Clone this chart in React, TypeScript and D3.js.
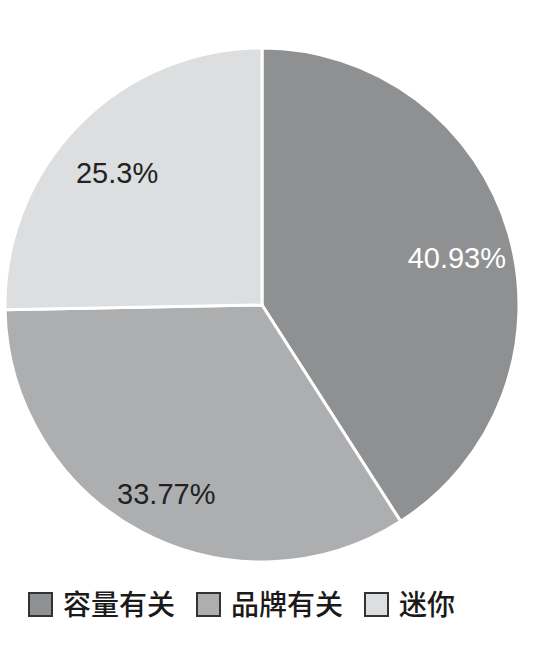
import React, { useEffect, useRef } from 'react';
import * as d3 from 'd3';

const categories = ['容量有关', '品牌有关', '迷你'];
const shares = [40.93, 33.77, 25.3];
const labels = ['40.93%', '33.77%', '25.3%'];
const colors = ['#8f9092', '#adaeb0', '#dcdee0'];
const labelColors = ['#ffffff', '#222222', '#222222'];

const width = 552;
const height = 648;

export default function App() {
  const svgRef = useRef<SVGSVGElement>(null);

  useEffect(() => {
    if (!svgRef.current) return;
    const svg = d3.select(svgRef.current);
    svg.selectAll('*').remove();

    const cx = 262;
    const cy = 305;
    const radius = 257;

    const data = categories.map((c, i) => ({ name: c, value: shares[i], label: labels[i], i }));

    const pie = d3.pie<typeof data[number]>().value(d => d.value).sort(null);
    const arc = d3.arc<d3.PieArcDatum<typeof data[number]>>().innerRadius(0).outerRadius(radius);
    // labels sit a bit outside the middle of each slice, nudged down slightly
    const labelArc = d3.arc<d3.PieArcDatum<typeof data[number]>>()
      .innerRadius(radius * 0.79)
      .outerRadius(radius * 0.79);

    const g = svg.append('g').attr('transform', `translate(${cx},${cy})`);
    const arcs = pie(data);

    g.selectAll('path')
      .data(arcs)
      .enter().append('path')
      .attr('d', arc)
      .attr('fill', d => colors[d.data.i])
      .attr('stroke', 'white')
      .attr('stroke-width', 3)
      .attr('stroke-linejoin', 'round');

    g.selectAll('text.val')
      .data(arcs)
      .enter().append('text')
      .attr('class', 'val')
      .attr('transform', d => {
        const [x, y] = labelArc.centroid(d);
        return `translate(${x},${y + 10})`;
      })
      .attr('text-anchor', 'middle')
      .attr('dy', '0.36em')
      .attr('fill', d => labelColors[d.data.i])
      .style('font-family', '"Liberation Sans", Arial, sans-serif')
      .style('font-size', '29px')
      .text(d => d.data.label);

    // legend
    const legendX = d3.scaleOrdinal<string, number>().domain(categories).range([28, 196, 364]);
    const legend = svg.append('g').attr('transform', 'translate(0,592)');
    const item = legend.selectAll('g')
      .data(data)
      .enter().append('g')
      .attr('transform', d => `translate(${legendX(d.name)},0)`);

    item.append('rect')
      .attr('x', 1)
      .attr('y', 1)
      .attr('width', 23)
      .attr('height', 23)
      .attr('fill', d => colors[d.i])
      .attr('stroke', '#333')
      .attr('stroke-width', 2);

    item.append('text')
      .attr('x', 35)
      .attr('y', 12.5)
      .attr('dy', '0.36em')
      .attr('fill', '#1a1a1a')
      .style('font-family', '"Noto Sans CJK SC", sans-serif')
      .style('font-size', '28px')
      .style('font-weight', 500)
      .text(d => d.name);
  }, []);

  return (
    <div style={{ width, height }}>
      <svg ref={svgRef} width={width} height={height} style={{ position: 'absolute', left: 0, top: 0, background: '#fff' }} />
    </div>
  );
}
